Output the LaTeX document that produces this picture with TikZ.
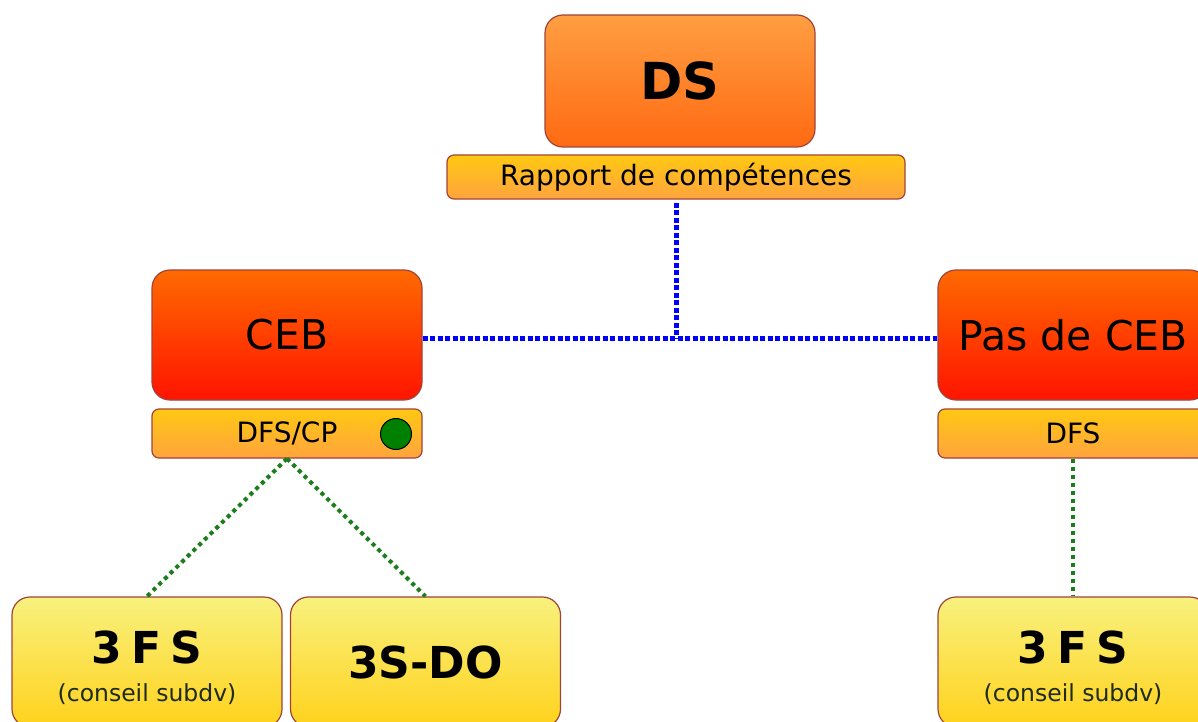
\documentclass[tikz,border=0pt]{standalone}
\usepackage{fontspec}
\setmainfont{DejaVu Sans}
\newcommand\narrowspaces{\spaceskip=9pt plus 1pt\relax}
\begin{document}
\begin{tikzpicture}[x=1pt,y=-1pt,
  orgbox/.style={draw=boxline, line width=1.2pt, rounded corners=18pt, inner sep=0pt},
  topbox/.style={orgbox, top color=dsTop, bottom color=dsBot, minimum width=270pt, minimum height=132pt},
  redbox/.style={orgbox, top color=cebTop, bottom color=cebBot, minimum width=270pt, minimum height=130pt},
  yelbox/.style={orgbox, top color=ylTop, bottom color=ylBot, minimum width=270pt, minimum height=130pt},
  bar/.style={draw=boxline, line width=1.2pt, rounded corners=7pt, inner sep=0pt, top color=barTop, bottom color=barBot},
  bluelink/.style={draw=linkBlue, line width=5pt, dash pattern=on 5pt off 2.5pt},
  greenlink/.style={draw=linkGreen, line width=4pt, dash pattern=on 4pt off 4pt},
  big/.style={font=\fontsize{51}{54}\selectfont\bfseries},
  mid/.style={font=\fontsize{41}{46}\selectfont},
  bold/.style={font=\fontsize{44}{48}\selectfont\bfseries},
  small/.style={font=\fontsize{28}{32}\selectfont},
  tiny/.style={font=\fontsize{23.5}{26}\selectfont, text=textDark}
]
\definecolor{boxline}{HTML}{A0443A}
\definecolor{dsTop}{HTML}{FF9E42}
\definecolor{dsBot}{HTML}{FF6A12}
\definecolor{cebTop}{HTML}{FF6A00}
\definecolor{cebBot}{HTML}{FF1400}
\definecolor{barTop}{HTML}{FFC812}
\definecolor{barBot}{HTML}{FFA43E}
\definecolor{ylTop}{HTML}{F8F17E}
\definecolor{ylBot}{HTML}{FFD21C}
\definecolor{linkBlue}{HTML}{0000FF}
\definecolor{linkGreen}{HTML}{1A7F1A}
\definecolor{textDark}{HTML}{1E2A1E}
\definecolor{dotGreen}{HTML}{008000}

\useasboundingbox (0,0) rectangle (1198,722);
\clip (0,0) rectangle (1198,722);

% top level
\node[topbox, big] (ds) at (680,81) {DS};
\node[bar, minimum width=458pt, minimum height=44pt, small] (rapport) at (676,177) {Rapport de compétences};

% second level
\node[redbox, mid] (ceb) at (287,335) {\raisebox{-3pt}{CEB}};
\node[bar, minimum width=270pt, minimum height=49pt, small] (dfscp) at (287,433.5) {DFS/CP};
\node[circle, draw=black, line width=1pt, fill=dotGreen, minimum size=31pt, inner sep=0pt] (ok) at (396,434) {};

\node[redbox, mid] (pas) at (1073,335) {\raisebox{-3pt}{Pas de CEB}};
\node[bar, minimum width=270pt, minimum height=49pt, small] (dfs) at (1073,433.5) {DFS};

% third level
\node[yelbox] (fsA) at (147,662) {};
\node[bold, anchor=base] (fsAt) at (147,663) {\narrowspaces 3 F S};
\node[tiny, anchor=base] (fsAs) at (147,701) {(conseil subdv)};

\node[yelbox, bold] (sdo) at (425.5,662) {3S-DO};

\node[yelbox] (fsB) at (1073,662) {};
\node[bold, anchor=base] (fsBt) at (1073,663) {\narrowspaces 3 F S};
\node[tiny, anchor=base] (fsBs) at (1073,701) {(conseil subdv)};

% links
\coordinate (hub) at (676,338);
\draw[bluelink] ([yshift=-3pt]rapport.south) -- (hub);
\draw[bluelink] ([yshift=-3pt]ceb.east) -- ([yshift=-3pt]pas.west);
\draw[greenlink] (dfscp.south) -- (fsA.north);
\draw[greenlink] (dfscp.south) -- (sdo.north);
\draw[greenlink] (dfs.south) -- (fsB.north);
\end{tikzpicture}
\end{document}
